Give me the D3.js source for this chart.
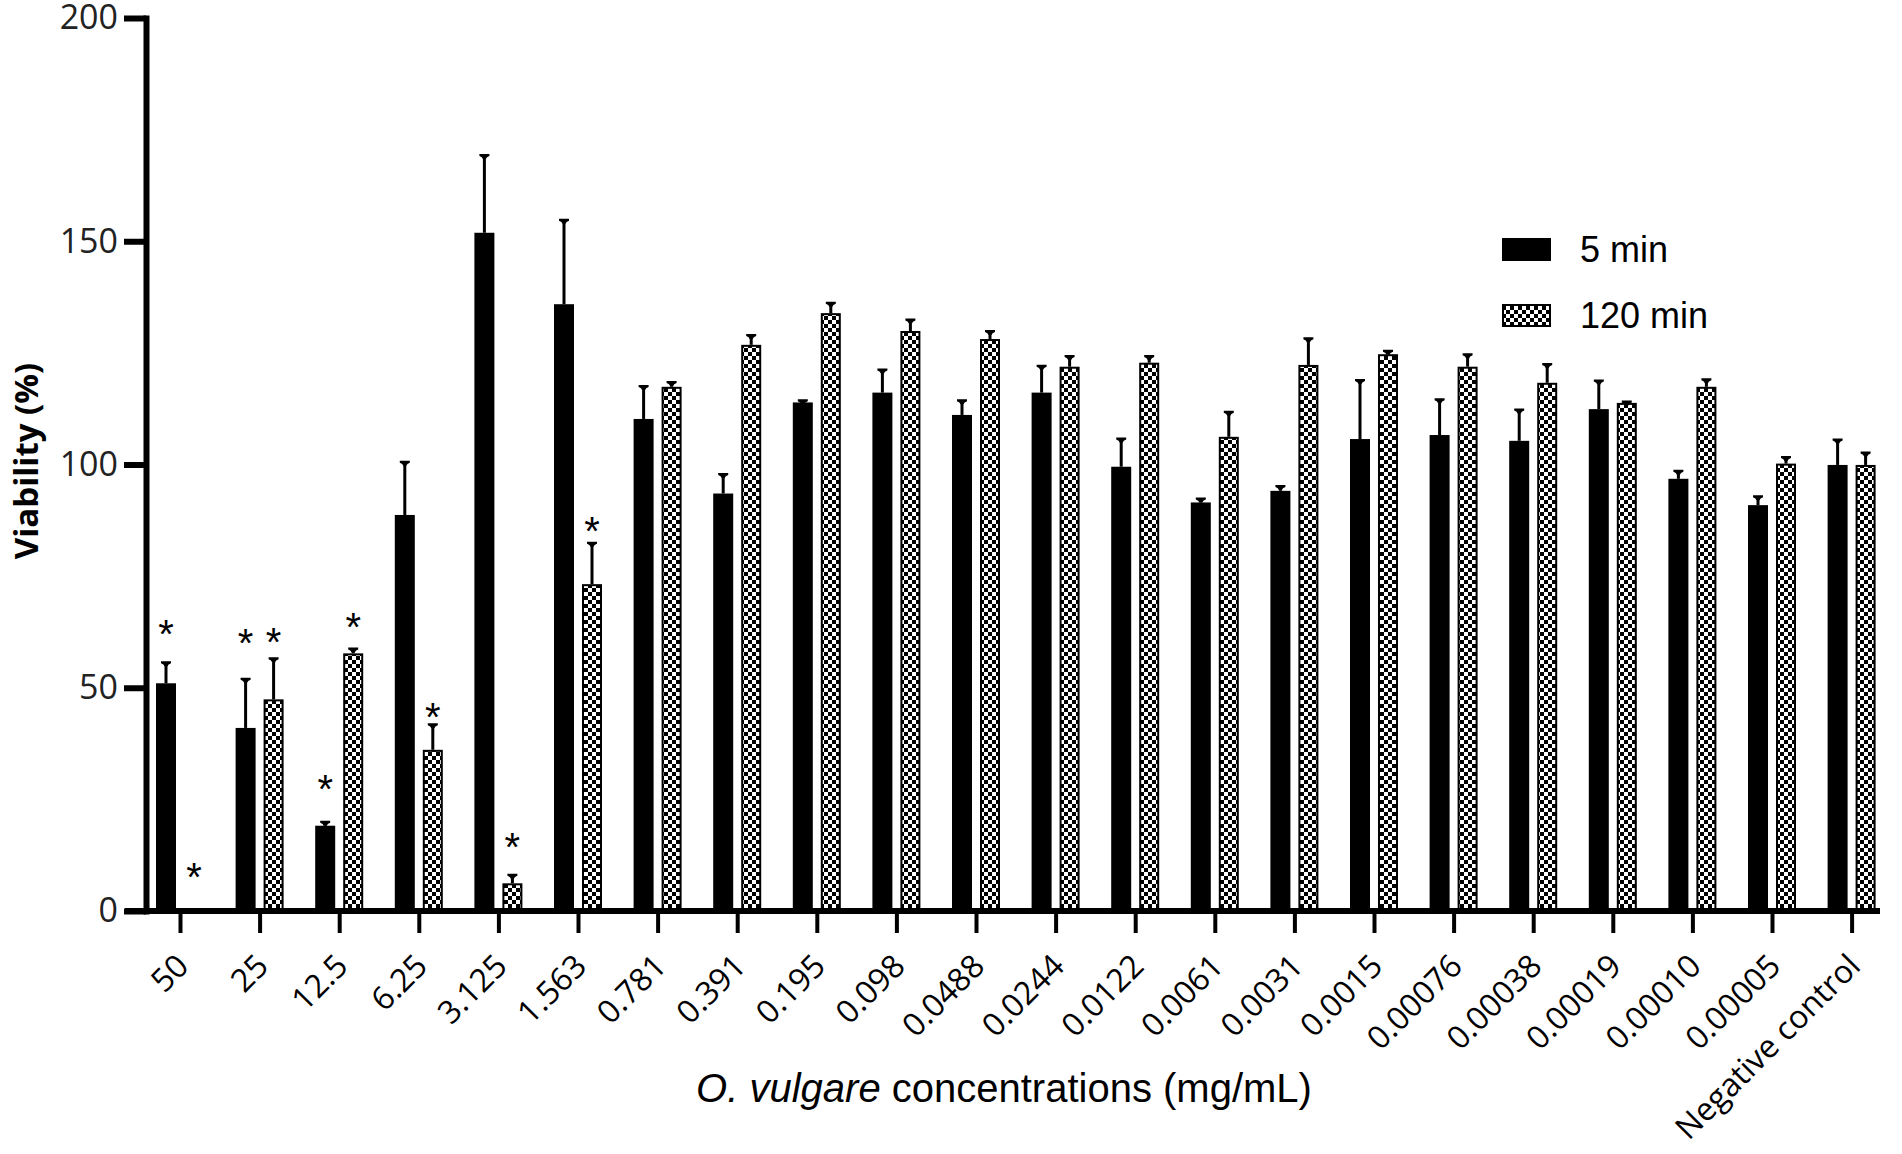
<!DOCTYPE html>
<html>
<head>
<meta charset="utf-8">
<script src="https://cdn.jsdelivr.net/npm/d3@7"></script>
<style>
  body { margin: 0; background: #fff; }
</style>
</head>
<body>
<script>
const WIDTH = 1902
const HEIGHT = 1154

const CATEGORIES = ['50', '25', '12.5', '6.25', '3.125', '1.563', '0.781', '0.391', '0.195', '0.098',
    '0.0488', '0.0244', '0.0122', '0.0061', '0.0031', '0.0015', '0.00076', '0.00038', '0.00019',
    '0.00010', '0.00005', 'Negative control']
const SERIES = ['5 min', '120 min']

// mean viability (%) and upper SD
const MIN5 = [51, 41, 19.1, 88.7, 151.9, 135.9, 110.2, 93.5, 113.9, 116.1, 111.1, 116.1, 99.5, 91.5,
    94.1, 105.7, 106.6, 105.3, 112.4, 96.8, 90.9, 99.9]
const MIN5_ERR = [4.7, 11, 0.9, 11.9, 17.4, 18.9, 7.4, 4.4, 0.5, 5.2, 3.3, 6, 6.3, 0.9,
    1.1, 13.2, 8, 7, 6.4, 1.8, 2, 5.7]
const MIN120 = [0, 47.4, 57.7, 36.1, 6.2, 73.2, 117.4, 126.8, 133.9, 129.9, 128.1, 121.9, 122.8, 106.2,
    122.3, 124.7, 121.9, 118.3, 113.8, 117.4, 100.2, 99.9]
const MIN120_ERR = [0, 9.2, 1.1, 5.7, 1.9, 9.3, 1.1, 2.2, 2.3, 2.6, 1.8, 2.4, 1.5, 5.6,
    6, 0.8, 2.8, 4.2, 0.3, 1.7, 1.5, 2.8]

// significance marks: category, series, height of the mark
const STAR_CATS = ['50', '50', '25', '25', '12.5', '12.5', '6.25', '3.125', '1.563']
const STAR_SERIES = ['5 min', '120 min', '5 min', '120 min', '5 min', '120 min', '120 min', '120 min', '120 min']
const STAR_LEVELS = [64.1, 9.6, 62, 62.3, 29.3, 65.6, 45.5, 16.3, 87.1]

const Y_TICKS = [0, 50, 100, 150, 200]

const AXIS_X = 146
const Y_TOP = 18
const Y_ZERO = 911

const svg = d3.select('body')
    .append('svg')
    .attr('width', WIDTH)
    .attr('height', HEIGHT)

const defs = svg.append('defs')
const pat = defs.append('pattern')
    .attr('id', 'checks')
    .attr('patternUnits', 'userSpaceOnUse')
    .attr('width', 8)
    .attr('height', 8)
pat.append('rect').attr('width', 8).attr('height', 8).attr('fill', '#000')
pat.append('rect').attr('x', 0).attr('y', 0).attr('width', 4).attr('height', 4).attr('fill', '#fff')
pat.append('rect').attr('x', 4).attr('y', 4).attr('width', 4).attr('height', 4).attr('fill', '#fff')

const x = d3.scalePoint()
    .domain(CATEGORIES)
    .range([180, 1851.6])

const inner = d3.scaleBand()
    .domain(SERIES)
    .range([-24, 24])
    .paddingInner(2 / 7)

const y = d3.scaleLinear()
    .domain([0, 200])
    .range([Y_ZERO, Y_TOP])

const rows = []
CATEGORIES.forEach((c, i) => {
    rows.push({ cat: c, series: '5 min', v: MIN5[i], e: MIN5_ERR[i] })
    rows.push({ cat: c, series: '120 min', v: MIN120[i], e: MIN120_ERR[i] })
})
const shown = rows.filter(d => d.v > 0)

const bars = svg.append('g')

bars.selectAll('rect')
    .data(shown)
    .enter()
    .append('rect')
    .attr('x', d => x(d.cat) + inner(d.series) + (d.series === '5 min' ? 0 : 1))
    .attr('width', d => inner.bandwidth() - (d.series === '5 min' ? 0 : 2))
    .attr('y', d => y(d.v) + (d.series === '5 min' ? 0 : 1))
    .attr('height', d => y(0) - y(d.v) - (d.series === '5 min' ? 0 : 1))
    .attr('fill', d => d.series === '5 min' ? '#000' : 'url(#checks)')
    .attr('stroke', d => d.series === '5 min' ? 'none' : '#000')
    .attr('stroke-width', 2)

// error bars
const cx = d => x(d.cat) + inner(d.series) + inner.bandwidth() / 2
bars.selectAll('line.err')
    .data(shown)
    .enter()
    .append('line')
    .attr('class', 'err')
    .attr('x1', cx)
    .attr('x2', cx)
    .attr('y1', d => y(d.v))
    .attr('y2', d => y(d.v + d.e))
    .attr('stroke', '#000')
    .attr('stroke-width', 3)

bars.selectAll('path.cap')
    .data(shown)
    .enter()
    .append('path')
    .attr('class', 'cap')
    .attr('d', d => {
        const c = cx(d), t = y(d.v + d.e) - 1
        return `M${c - 5},${t} L${c + 5},${t} L${c + 5},${t + 2} Q${c + 2},${t + 3} ${c + 1.5},${t + 5}` +
            ` L${c - 1.5},${t + 5} Q${c - 2},${t + 3} ${c - 5},${t + 2} Z`
    })
    .attr('fill', '#000')

// asterisks
svg.append('g')
    .selectAll('text')
    .data(STAR_CATS)
    .enter()
    .append('text')
    .text('*')
    .attr('x', (d, i) => x(d) + inner(STAR_SERIES[i]) + inner.bandwidth() / 2)
    .attr('y', (d, i) => y(STAR_LEVELS[i]))
    .attr('dy', '0.58em')
    .attr('text-anchor', 'middle')
    .attr('font-family', '"Liberation Sans", Arial, sans-serif')
    .attr('font-size', 40)

// y axis
const yAxis = d3.axisLeft(y)
    .tickValues(Y_TICKS)
    .tickSize(22)
    .tickSizeOuter(0)
    .tickPadding(6)
    .tickFormat(d => `${d}`)

const gy = svg.append('g')
    .attr('transform', `translate(${AXIS_X}, 0)`)
    .call(yAxis)
gy.select('.domain')
    .attr('stroke-width', 6)
    .attr('stroke-linecap', 'square')
gy.selectAll('.tick line').attr('stroke-width', 6)
gy.selectAll('.tick text')
    .attr('font-family', '"Open Sans", "Noto Sans", sans-serif')
    .attr('font-size', 34)
    .attr('fill', '#222')

// x axis
svg.append('line')
    .attr('x1', 125)
    .attr('x2', 1880)
    .attr('y1', y(0))
    .attr('y2', y(0))
    .attr('stroke', '#000')
    .attr('stroke-width', 6)

const xAxis = d3.axisBottom(x)
    .tickSize(22)
    .tickSizeOuter(0)

const gx = svg.append('g')
    .attr('transform', `translate(0, ${y(0)})`)
    .call(xAxis)
gx.select('.domain').remove()
gx.selectAll('.tick line').attr('stroke-width', 4)
gx.selectAll('.tick text')
    .attr('x', 0)
    .attr('y', 0)
    .attr('dy', 0)
    .attr('transform', 'translate(10, 57) rotate(-45)')
    .attr('text-anchor', 'end')
    .attr('font-family', '"Open Sans", "Noto Sans", sans-serif')
    .attr('font-size', 32)
    .attr('fill', '#000')

// axis titles
svg.append('text')
    .attr('transform', 'translate(38, 461) rotate(-90)')
    .attr('text-anchor', 'middle')
    .attr('font-family', '"Open Sans", "Noto Sans", sans-serif')
    .attr('font-weight', 'bold')
    .attr('font-size', 33)
    .text('Viability (%)')

const xt = svg.append('text')
    .attr('x', 1004)
    .attr('y', 1102)
    .attr('text-anchor', 'middle')
    .attr('font-family', '"Liberation Sans", Arial, sans-serif')
    .attr('font-size', 40)
xt.append('tspan').attr('font-style', 'italic').text('O. vulgare')
xt.append('tspan').text(' concentrations (mg/mL)')

// legend
const legend = svg.append('g')
    .attr('transform', 'translate(1502, 238)')

legend.selectAll('rect')
    .data(SERIES)
    .enter()
    .append('rect')
    .attr('x', (d, i) => i ? 1 : 0)
    .attr('y', (d, i) => i * 66 + (i ? 1 : 0))
    .attr('width', (d, i) => i ? 47 : 49)
    .attr('height', (d, i) => i ? 21 : 23)
    .attr('fill', (d, i) => i ? 'url(#checks)' : '#000')
    .attr('stroke', (d, i) => i ? '#000' : 'none')
    .attr('stroke-width', 2)

legend.selectAll('text')
    .data(SERIES)
    .enter()
    .append('text')
    .attr('x', 78)
    .attr('y', (d, i) => i * 66 + 24)
    .attr('font-family', '"Liberation Sans", Arial, sans-serif')
    .attr('font-size', 36)
    .text(d => d)
</script>
</body>
</html>
